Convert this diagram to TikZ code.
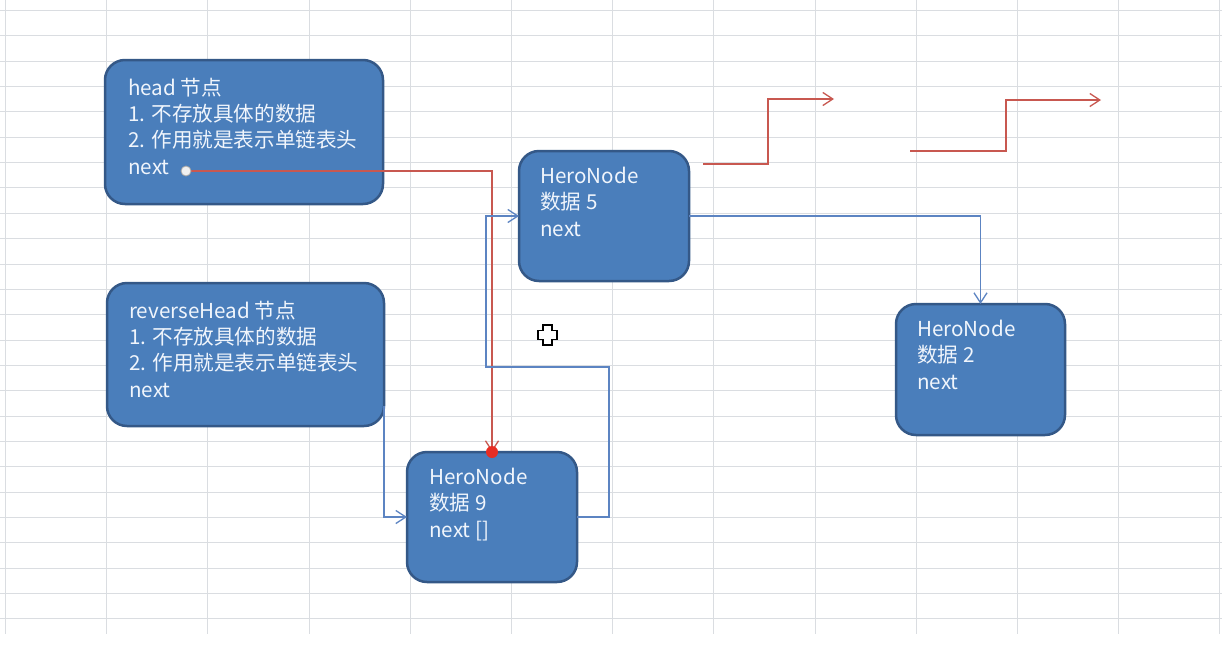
\documentclass[tikz,border=0pt]{standalone}
\usepackage{fontspec}
\newfontfamily\cjk{Noto Sans CJK SC}
\usetikzlibrary{arrows.meta}
\definecolor{gridgray}{RGB}{218,221,225}
\definecolor{boxfill}{RGB}{74,126,187}
\definecolor{boxedge}{RGB}{52,88,135}
\definecolor{boxtext}{RGB}{240,245,252}
\definecolor{linkred}{RGB}{200,88,80}
\definecolor{linkblue}{RGB}{92,132,194}
\definecolor{pinred}{RGB}{232,45,35}
\begin{document}
\begin{tikzpicture}[x=1pt,y=-1pt,
  gridline/.style={draw=gridgray, line width=1pt},
  box/.style={draw=boxedge, line width=2.5pt, fill=boxfill, rounded corners=20pt,
    inner sep=0pt, outer sep=0pt, anchor=north west},
  % multi-line labels: the base anchor sits on the last line
  boxlabel/.style={anchor=base west, inner sep=0pt, align=left, text=boxtext,
    font=\cjk\fontsize{20.6}{26.3}\selectfont},
  link/.style={line width=1.3pt, -{Straight Barb[length=10pt,width=13pt]}},
  redlink/.style={link, draw=linkred},
  bluelink/.style={link, draw=linkblue}
]
\useasboundingbox (0,0) rectangle (1222,648);
\fill[white] (0,0) rectangle (1222,648);

% worksheet grid
\foreach \k in {0,...,12}
  \draw[gridline] ({5.5+101.2*\k},0) -- ({5.5+101.2*\k},634);
\foreach \k in {0,...,24}
  \draw[gridline] (0,{10.5+25.35*\k}) -- (1222,{10.5+25.35*\k});

% list nodes
\node[box, minimum width=278pt, minimum height=144pt] (head) at (105,60) {};
\node[box, minimum width=277pt, minimum height=143pt] (rev) at (107,283) {};
\node[box, minimum width=170pt, minimum height=130pt] (h5) at (519,151) {};
\node[box, minimum width=170pt, minimum height=130pt] (h9) at (407,452) {};
\node[box, minimum width=169pt, minimum height=131pt] (h2) at (896,304) {};

\node[boxlabel] (headtxt) at (128,174) {head 节点\\1. 不存放具体的数据\\2. 作用就是表示单链表头\\next};
\node[boxlabel] (revtxt) at (129,397) {reverseHead 节点\\1. 不存放具体的数据\\2. 作用就是表示单链表头\\next};
\node[boxlabel] (h5txt) at (540,236) {HeroNode\\数据 5\\next};
\node[boxlabel] (h9txt) at (429,537) {HeroNode\\数据 9\\next []};
\node[boxlabel] (h2txt) at (917,389) {HeroNode\\数据 2\\next};

% head.next points at node 9
\coordinate (nextpt) at (186,171);
\draw[redlink] (nextpt) -| (h9.north);
\node[circle, fill=white!88!gray, draw=gray!70, line width=0.8pt,
  minimum size=10pt, inner sep=0pt] (nextdot) at (nextpt) {};
\fill[pinred] (h9.north) circle (6);

% reverseHead.next -> node 9
\draw[bluelink] ([yshift=20pt]rev.south east) |- (h9.west);

% node 9 .next -> node 5
\coordinate (b1) at (609,367);
\coordinate (b2) at (486,367);
\draw[bluelink] (h9.east) -| (b1) -- (b2) |- (h5.west);

% node 5 .next -> node 2
\draw[bluelink] (h5.east) -| (h2.north);

% stepped red arrows
\coordinate (s1) at (703,164);
\coordinate (e1) at (834,99);
\draw[redlink] (s1) -- ++(65,0) |- (e1);
\coordinate (s2) at (910,151);
\coordinate (e2) at (1101,100);
\draw[redlink] (s2) -- ++(96,0) |- (e2);

% move cursor
\draw[black, line width=1.8pt, fill=white, line join=miter]
  (543,325) -- (552,325) -- (552,330.5) -- (557,330.5) -- (557,339.5) -- (552,339.5)
  -- (552,345) -- (543,345) -- (543,339.5) -- (538,339.5) -- (538,330.5) -- (543,330.5) -- cycle;
\end{tikzpicture}
\end{document}
